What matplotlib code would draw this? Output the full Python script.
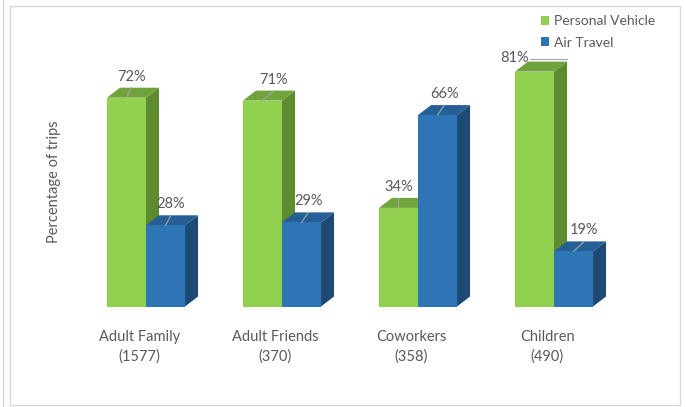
import matplotlib
matplotlib.use("Agg")
import matplotlib.pyplot as plt
from matplotlib.patches import Polygon, Rectangle, Patch
from matplotlib.lines import Line2D
import numpy as np

categories = ["Adult Family", "Adult Friends", "Coworkers", "Children"]
counts = [1577, 370, 358, 490]
series_names = ["Personal Vehicle", "Air Travel"]
personal_vehicle = [72, 71, 34, 81]
air_travel = [28, 29, 66, 19]

# x nudges for the value labels (group units)
pv_label_shift = [0.035, 0.085, 0.0, -0.15]
air_label_shift = [0.04, 0.05, 0.05, 0.08]

TEXT = "#595959"
LEADER = "#A6A6A6"
GREEN = {"front": "#92D050", "side": "#5E8B2F", "top": "#71A33D"}
BLUE = {"front": "#2E75B6", "side": "#1D4A74", "top": "#255F96"}

plt.rcParams["font.family"] = ["Lato", "DejaVu Sans"]

BAR_W = 0.287
DX = 0.0956   # depth offset along x (group units)
DY = 3.45     # depth offset along y (percent)


def box_bar(ax, xc, h, colors, z):
    """Front face via bar(), plus side and top faces for a 3D look."""
    left = xc - BAR_W / 2
    right = xc + BAR_W / 2
    side = Polygon([(right, 0), (right + DX, DY), (right + DX, h + DY), (right, h)],
                   closed=True, fc=colors["side"], ec="none", zorder=z)
    top = Polygon([(left, h), (left + DX, h + DY), (right + DX, h + DY), (right, h)],
                  closed=True, fc=colors["top"], ec="none", zorder=z)
    ax.add_patch(side)
    ax.add_patch(top)
    ax.bar(xc, h, BAR_W, color=colors["front"], zorder=z + 0.5)


def value_label(ax, xc, h, shift):
    ty = h + DY + 3.8
    tx = xc + shift
    if shift >= 0:
        ax.plot([xc, xc + min(shift, DX)], [h, h + DY], color=LEADER, lw=0.8, zorder=10)
    else:
        ty = h + DY + 1.3
        ax.plot([tx + 0.12, xc + BAR_W / 2 + DX], [h + DY + 1.0, h + DY + 1.0],
                color=LEADER, lw=0.8, zorder=10)
    ax.text(tx, ty, f"{h}%", ha="center", va="center", fontsize=10.5, color=TEXT, zorder=11)


fig = plt.figure(figsize=(6.86, 4.07), dpi=100)
ax = fig.add_axes([23.6 / 686, 100.5 / 407, 652.8 / 686, 290 / 407])
ax.set_xlim(-0.9, 3.9)
ax.set_ylim(0, 100)
ax.set_axis_off()

x = np.arange(len(categories))
for i in range(len(categories)):
    box_bar(ax, x[i] - BAR_W / 2, personal_vehicle[i], GREEN, 1)
    box_bar(ax, x[i] + BAR_W / 2, air_travel[i], BLUE, 3)
    value_label(ax, x[i] - BAR_W / 2, personal_vehicle[i], pv_label_shift[i])
    value_label(ax, x[i] + BAR_W / 2, air_travel[i], air_label_shift[i])
    ax.text(x[i] - 0.05, -13.9, f"{categories[i]}\n({counts[i]})", ha="center",
            va="center", fontsize=10.5, color=TEXT, linespacing=1.45, clip_on=False)

ax.text(-0.68, 43, "Percentage of trips", rotation=90, ha="center", va="center",
        fontsize=10.5, color=TEXT, clip_on=False)

handles = [Patch(fc=GREEN["front"]), Patch(fc=BLUE["front"])]
fig.legend(handles, series_names, loc="upper left", bbox_to_anchor=(541 / 686, 1 - 15 / 407),
           frameon=False, fontsize=10, labelcolor=TEXT, handlelength=0.6, handleheight=0.6,
           handletextpad=0.35, labelspacing=0.7, borderpad=0, borderaxespad=0)

# chart frame
fig.add_artist(Rectangle((10 / 686, 2 / 407), 670 / 686, 399 / 407, transform=fig.transFigure,
                         fill=False, ec="#D9D9D9", lw=1))
fig.add_artist(Line2D([3 / 686, 3 / 686], [0, 1], transform=fig.transFigure, color="#D9D9D9", lw=1))

fig.savefig("out.png", dpi=100)
